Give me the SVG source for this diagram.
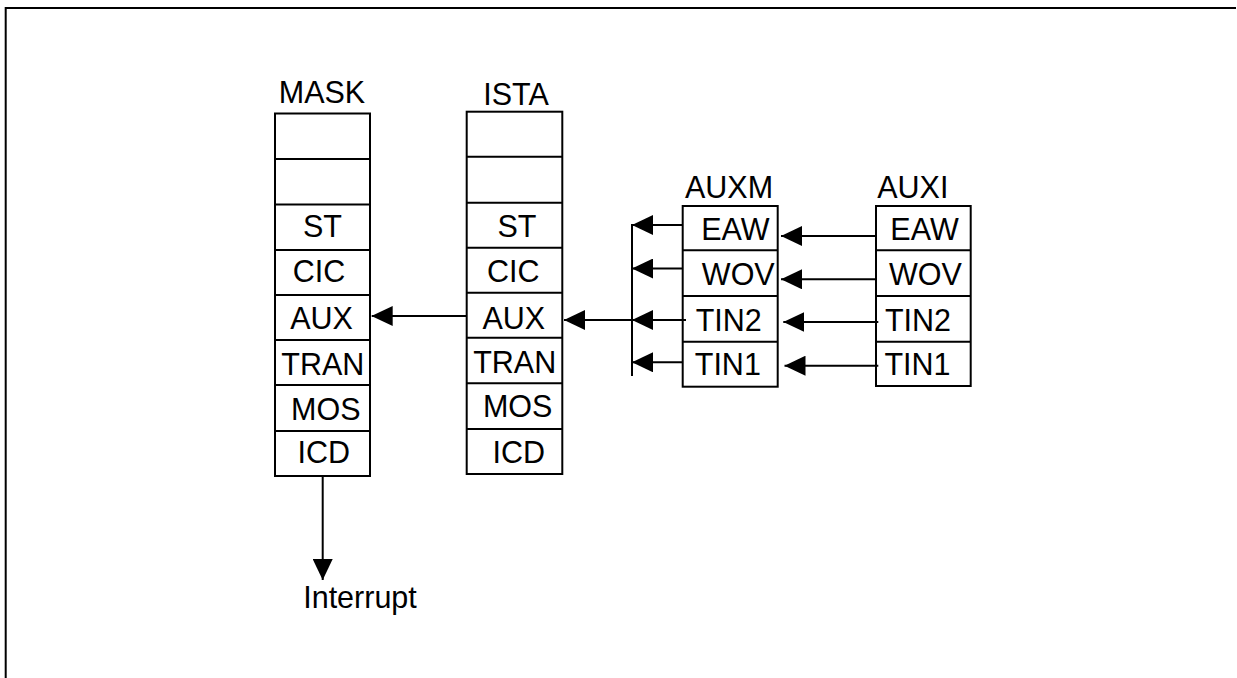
<svg xmlns="http://www.w3.org/2000/svg" width="1237" height="678" viewBox="0 0 1237 678">
<style>
text{font-family:"Liberation Sans",Arial,sans-serif;font-size:30.5px;fill:#000;text-anchor:middle}
.box{fill:#fff;stroke:#000;stroke-width:2}
.ln{fill:none;stroke:#000;stroke-width:2}
</style>
<defs>
<marker id="ah" viewBox="0 0 21 20" refX="21" refY="10" markerWidth="21" markerHeight="20" markerUnits="userSpaceOnUse" orient="auto">
<path d="M0,0 L21,10 L0,20 Z" fill="#000"/>
</marker>
</defs>
<rect width="1237" height="678" fill="#fff"/>
<path class="ln" d="M5.7,678 V8 H1236"/>

<g id="mask">
<text x="322" y="103">MASK</text>
<rect class="box" x="275" y="113.5" width="95" height="362.5"/>
<path class="ln" d="M275,159 H370 M275,204.5 H370 M275,250 H370 M275,295 H370 M275,340 H370 M275,385 H370 M275,431 H370"/>
<text x="322.5" y="236.7">ST</text>
<text x="319" y="281.7">CIC</text>
<text x="321.5" y="329.3">AUX</text>
<text x="322.8" y="375">TRAN</text>
<text x="325.8" y="420">MOS</text>
<text x="323.8" y="463.3">ICD</text>
</g>

<g id="ista">
<text x="516" y="105">ISTA</text>
<rect class="box" x="466.7" y="111.7" width="95.6" height="362.3"/>
<path class="ln" d="M466.7,156.7 H562.3 M466.7,202.7 H562.3 M466.7,247.7 H562.3 M466.7,292.7 H562.3 M466.7,337.7 H562.3 M466.7,383.3 H562.3 M466.7,429 H562.3"/>
<text x="517" y="236.7">ST</text>
<text x="513.3" y="281.7">CIC</text>
<text x="513.8" y="329">AUX</text>
<text x="514.7" y="372.7">TRAN</text>
<text x="517.7" y="416.7">MOS</text>
<text x="518.8" y="462.7">ICD</text>
</g>

<g id="auxm">
<text x="729" y="198.3">AUXM</text>
<rect class="box" x="682.7" y="206" width="95" height="180.7"/>
<path class="ln" d="M682.7,250.3 H777.7 M682.7,296 H777.7 M682.7,341.7 H777.7"/>
<text x="735.3" y="240">EAW</text>
<text x="738.3" y="285">WOV</text>
<text x="728.7" y="330.7">TIN2</text>
<text x="727.8" y="375">TIN1</text>
</g>

<g id="auxi">
<text x="912.8" y="198">AUXI</text>
<rect class="box" x="876" y="206" width="94.7" height="180"/>
<path class="ln" d="M876,250.3 H970.7 M876,296 H970.7 M876,341.7 H970.7"/>
<text x="924.5" y="240">EAW</text>
<text x="925.5" y="285">WOV</text>
<text x="918" y="330.7">TIN2</text>
<text x="917.5" y="375">TIN1</text>
</g>

<g id="interrupt">
<text x="360" y="608.3">Interrupt</text>
</g>

<g id="connectors">
<line class="ln" x1="466.7" y1="316" x2="371.7" y2="316" marker-end="url(#ah)"/>
<line class="ln" x1="632" y1="320" x2="564" y2="320" marker-end="url(#ah)"/>
<line class="ln" x1="632" y1="224" x2="632" y2="376"/>
<line class="ln" x1="682.7" y1="225" x2="632" y2="225" marker-end="url(#ah)"/>
<line class="ln" x1="682.7" y1="268.5" x2="632" y2="268.5" marker-end="url(#ah)"/>
<line class="ln" x1="686" y1="320" x2="632" y2="320" marker-end="url(#ah)"/>
<line class="ln" x1="682.7" y1="362.3" x2="632" y2="362.3" marker-end="url(#ah)"/>
<line class="ln" x1="876" y1="236" x2="781" y2="236" marker-end="url(#ah)"/>
<line class="ln" x1="876" y1="279.3" x2="781" y2="279.3" marker-end="url(#ah)"/>
<line class="ln" x1="878.3" y1="322" x2="783.3" y2="322" marker-end="url(#ah)"/>
<line class="ln" x1="878.3" y1="365.7" x2="784.5" y2="365.7" marker-end="url(#ah)"/>
<line class="ln" x1="322.7" y1="476" x2="322.7" y2="580" marker-end="url(#ah)"/>
</g>
</svg>
